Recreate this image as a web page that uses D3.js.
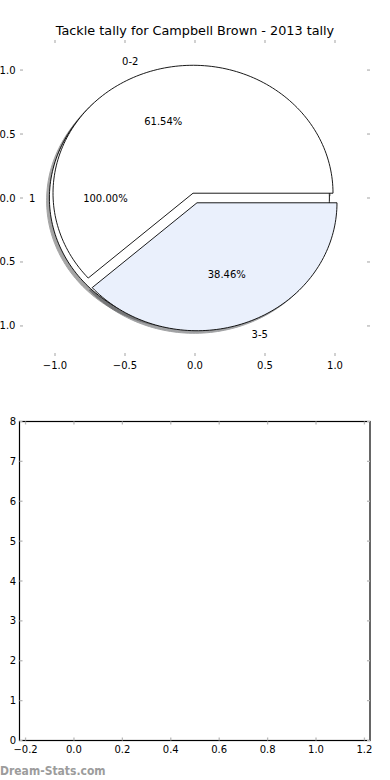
<!DOCTYPE html>
<html><head><meta charset="utf-8">
<script src="https://cdn.jsdelivr.net/npm/d3@7"></script>
<style>html,body{margin:0;padding:0;background:#fff;} svg{display:block;font-family:"DejaVu Sans",sans-serif;}</style>
</head><body><svg id="chart" width="390" height="780"></svg>
<script>
const title = "Tackle tally for Campbell Brown - 2013 tally";
const totalLabels = ["1"];
const totalValues = [13];
const rangeLabels = ["0-2", "3-5"];
const rangeValues = [8, 5];
const totalColors = ["#ffffff"];
const rangeColors = ["#ffffff", "#eaf0fc"];
const pieTicks = [-1, -0.5, 0, 0.5, 1];
const emptyXTicks = [-0.2, 0, 0.2, 0.4, 0.6, 0.8, 1.0, 1.2];
const emptyYTicks = [0, 1, 2, 3, 4, 5, 6, 7, 8];
const watermark = "Dream-Stats.com";

const svg = d3.select("#chart");
const tickColor = "#b8b8b8";
const fmt1 = d3.format(".1f");

// ---------- top (pie) axes ----------
const A = {left: 20, right: 370, top: 40, bottom: 356};
const x1 = d3.scaleLinear().domain([-1.25, 1.25]).range([A.left, A.right]);
const y1 = d3.scaleLinear().domain([-1.235, 1.235]).range([A.bottom, A.top]);

svg.append("text").attr("x", (A.left + A.right) / 2).attr("y", 34.5)
  .attr("text-anchor", "middle").attr("font-size", 12.8).attr("fill", "#000").text(title);

function wedges(values, labels, colors, explode) {
  const total = d3.sum(values);
  let acc = 0;
  return values.map((v, i) => {
    const t1 = acc / total * 2 * Math.PI;
    acc += v;
    const t2 = acc / total * 2 * Math.PI;
    const mid = (t1 + t2) / 2;
    const cx = explode * Math.cos(mid), cy = explode * Math.sin(mid);
    return {value: v, frac: v / total, label: labels[i], color: colors[i], t1, t2, mid, cx, cy,
            full: Math.abs(t2 - t1 - 2 * Math.PI) < 1e-9};
  });
}

function wedgePath(w, dx, dy) {
  const n = Math.max(8, Math.ceil((w.t2 - w.t1) / (2 * Math.PI) * 240));
  const pts = d3.range(n + 1).map(k => {
    const t = w.t1 + (w.t2 - w.t1) * k / n;
    return [x1(w.cx + dx + Math.cos(t)), y1(w.cy + dy + Math.sin(t))];
  });
  if (!w.full) pts.unshift([x1(w.cx + dx), y1(w.cy + dy)]);
  return d3.line()(pts) + "Z";
}

const pieA = wedges(totalValues, totalLabels, totalColors, 0.04);
const pieB = wedges(rangeValues, rangeLabels, rangeColors, 0.04);
const all = pieA.concat(pieB);

function shade(c) {
  const r = d3.rgb(c);
  return d3.rgb(r.r * 0.3, r.g * 0.3, r.b * 0.3).toString();
}

const gPie = svg.append("g");
gPie.selectAll("path.shadow").data(all).join("path").attr("class", "shadow")
  .attr("d", w => wedgePath(w, -0.02, -0.02))
  .attr("fill", w => shade(w.color)).attr("stroke", w => shade(w.color))
  .attr("opacity", 0.5).attr("stroke-width", 1);
gPie.selectAll("path.wedge").data(all).join("path").attr("class", "wedge")
  .attr("d", w => wedgePath(w, 0, 0))
  .attr("fill", w => w.color).attr("stroke", "#000").attr("stroke-width", 0.9)
  .attr("stroke-linejoin", "miter");

// labels
all.forEach(w => {
  const lx = w.cx + 1.1 * Math.cos(w.mid), ly = w.cy + 1.1 * Math.sin(w.mid);
  svg.append("text").attr("x", x1(lx)).attr("y", y1(ly)).attr("dy", "0.35em")
    .attr("text-anchor", lx > 0 ? "start" : "end").attr("font-size", 10).text(w.label);
  const px = w.cx + 0.6 * Math.cos(w.mid), py = w.cy + 0.6 * Math.sin(w.mid);
  svg.append("text").attr("x", x1(px)).attr("y", y1(py)).attr("dy", "0.35em")
    .attr("text-anchor", "middle").attr("font-size", 10).text(d3.format(".2f")(w.frac * 100) + "%");
});

function ticks(g, xs, ys, xsc, ysc, box, len) {
  xs.forEach(v => {
    g.append("line").attr("x1", xsc(v)).attr("x2", xsc(v)).attr("y1", box.bottom).attr("y2", box.bottom - len);
    g.append("line").attr("x1", xsc(v)).attr("x2", xsc(v)).attr("y1", box.top).attr("y2", box.top + len);
  });
  ys.forEach(v => {
    g.append("line").attr("y1", ysc(v)).attr("y2", ysc(v)).attr("x1", box.left).attr("x2", box.left + len);
    g.append("line").attr("y1", ysc(v)).attr("y2", ysc(v)).attr("x1", box.right).attr("x2", box.right - len);
  });
  g.selectAll("line").attr("stroke", tickColor).attr("stroke-width", 1.3);
}

const t1g = svg.append("g");
ticks(t1g, pieTicks, pieTicks, x1, y1, A, 3);
pieTicks.forEach(v => {
  svg.append("text").attr("x", x1(v)).attr("y", A.bottom + 12.5).attr("text-anchor", "middle")
    .attr("font-size", 10).text(fmt1(v));
  svg.append("text").attr("x", A.left - 4.5).attr("y", y1(v)).attr("dy", "0.35em").attr("text-anchor", "end")
    .attr("font-size", 10).text(fmt1(v));
});

// ---------- bottom (empty) axes ----------
const B = {left: 19.5, right: 370, top: 421.5, bottom: 740.5};
const x2 = d3.scaleLinear().domain([-0.225, 1.223]).range([B.left, B.right]);
const y2 = d3.scaleLinear().domain([0, 8]).range([B.bottom, B.top]);
svg.append("rect").attr("x", B.left).attr("y", B.top).attr("width", B.right - B.left).attr("height", B.bottom - B.top)
  .attr("fill", "#fff").attr("stroke", "#000").attr("stroke-width", 1.2);
const t2g = svg.append("g");
ticks(t2g, emptyXTicks, emptyYTicks, x2, y2, B, 3);
emptyXTicks.forEach(v => {
  svg.append("text").attr("x", x2(v)).attr("y", B.bottom + 12).attr("text-anchor", "middle")
    .attr("font-size", 10).text(fmt1(v));
});
emptyYTicks.forEach(v => {
  svg.append("text").attr("x", B.left - 3.5).attr("y", y2(v)).attr("dy", "0.35em").attr("text-anchor", "end")
    .attr("font-size", 10).text(d3.format("d")(v));
});

svg.append("text").attr("x", 0).attr("y", 775).attr("font-size", 12).attr("font-weight", "bold")
  .attr("font-stretch", "condensed").attr("fill", "#9c9c9c").text(watermark);
</script></body></html>
